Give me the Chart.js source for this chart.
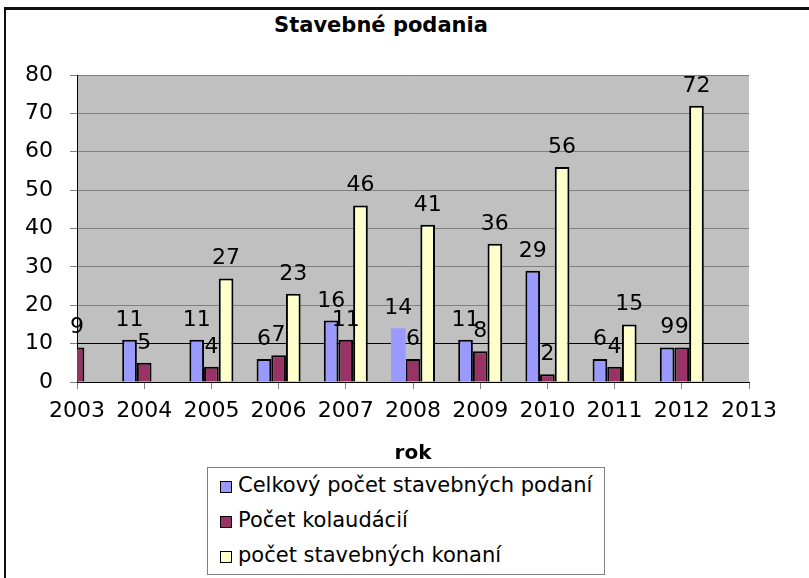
<!DOCTYPE html>
<html>
<head>
<meta charset="utf-8">
<script src="https://cdn.jsdelivr.net/npm/chart.js@4"></script>
<style>
    body { margin: 0; background: #fff; width: 809px; height: 578px; overflow: hidden; position: relative; font-family: "DejaVu Sans", sans-serif; }
    .frame { position: absolute; left: 4px; top: 7px; width: 830px; height: 620px; border-left: 2px solid #111; border-top: 3px solid #111; }
    #chartCanvas { position: absolute; left: 0; top: 0; }
    .chart-title { position: absolute; left: 0; top: 14px; width: 762px; text-align: center; font-weight: bold; font-size: 21px; line-height: 22px; color: #000; }
    .chart-legend { position: absolute; left: 207px; top: 467px; width: 396px; height: 106px; border: 1px solid #808080; background: #fff; }
    .legend-item { position: relative; height: 35px; }
    .legend-color { position: absolute; left: 12px; top: 13px; width: 10px; height: 10px; border: 1px solid #000; }
    .legend-text { position: absolute; left: 30px; top: 0; line-height: 35px; font-size: 21px; color: #000; white-space: nowrap; }
</style>
</head>
<body>
<div class="frame"></div>
<div class="chart-title">Stavebné podania</div>
<canvas id="chartCanvas" width="809" height="470"></canvas>
<div class="chart-legend"></div>

<script>
// Dati
const years = ['2003', '2004', '2005', '2006', '2007', '2008', '2009', '2010', '2011', '2012', '2013'];
const podania = [null, 11, 11, 6, 16, 14, 11, 29, 6, 9, null];
const kolaudacie = [9, 5, 4, 7, 11, 6, 8, 2, 4, 9, null];
const konania = [null, null, 27, 23, 46, 41, 36, 56, 15, 72, null];

const FONT = '"DejaVu Sans", sans-serif';

// Sfondo grigio dell'area del grafico
const plotBackground = {
    id: 'plotBackground',
    beforeDraw(chart) {
        const { ctx, chartArea: a } = chart;
        ctx.save();
        ctx.fillStyle = '#C0C0C0';
        ctx.fillRect(a.left, a.top, a.right - a.left, a.bottom - a.top);
        ctx.restore();
    }
};

// Etichette con i valori sopra le barre
const valueLabels = {
    id: 'valueLabels',
    afterDatasetsDraw(chart) {
        const ctx = chart.ctx;
        ctx.save();
        ctx.font = '22px ' + FONT;
        ctx.fillStyle = '#000';
        ctx.textAlign = 'center';
        ctx.textBaseline = 'alphabetic';
        chart.data.datasets.forEach((ds, i) => {
            chart.getDatasetMeta(i).data.forEach((bar, j) => {
                const v = ds.data[j];
                if (v === null || v === undefined) return;
                ctx.fillText(String(v), bar.x, bar.y - 14);
            });
        });
        ctx.restore();
    }
};

const ctx = document.getElementById('chartCanvas');

const chart = new Chart(ctx, {
    type: 'bar',
    data: {
        labels: years,
        datasets: [
            {
                label: 'Celkový počet stavebných podaní',
                data: podania,
                backgroundColor: '#9999FF',
                borderColor: '#000',
                borderWidth: c => (c.dataIndex === 5 ? 0 : 2)
            },
            {
                label: 'Počet kolaudácií',
                data: kolaudacie,
                backgroundColor: '#993366',
                borderColor: '#000',
                borderWidth: 2
            },
            {
                label: 'počet stavebných konaní',
                data: konania,
                backgroundColor: '#FFFFCC',
                borderColor: '#000',
                borderWidth: 2
            }
        ]
    },
    options: {
        responsive: false,
        animation: false,
        layout: { padding: { top: 75, right: 60, bottom: 0, left: 0 } },
        datasets: {
            bar: { categoryPercentage: 0.655, barPercentage: 1, clip: 0 }
        },
        plugins: {
            legend: { display: false },
            title: { display: false },
            tooltip: { enabled: false }
        },
        scales: {
            x: {
                type: 'category',
                offset: false,
                grid: {
                    display: true,
                    offset: false,
                    drawOnChartArea: false,
                    drawTicks: true,
                    tickLength: 7,
                    color: '#808080'
                },
                border: { color: '#000', width: 1 },
                ticks: {
                    color: '#000',
                    font: { size: 22, family: FONT },
                    padding: 9,
                    autoSkip: false,
                    maxRotation: 0
                },
                title: {
                    display: true,
                    text: 'rok',
                    color: '#000',
                    font: { size: 20, weight: 'bold', family: FONT },
                    padding: { top: 4, bottom: 4 }
                },
                afterFit: scale => { scale.height = 88; }
            },
            y: {
                min: 0,
                max: 80,
                grid: {
                    color: c => (c.tick && c.tick.value === 10 ? '#000' : '#808080'),
                    tickColor: '#808080',
                    tickLength: 7
                },
                border: { color: '#000', width: 1 },
                ticks: {
                    stepSize: 10,
                    color: '#000',
                    font: { size: 22, family: FONT },
                    padding: 17
                },
                afterFit: scale => { scale.width = 77; }
            }
        }
    },
    plugins: [plotBackground, valueLabels]
});

// Legenda personalizzata
function updateChartLegend(datasets) {
    const legendContainer = document.querySelector('.chart-legend');
    if (!legendContainer) return;
    legendContainer.innerHTML = datasets.map(dataset => `
        <div class="legend-item">
            <span class="legend-color" style="background: ${dataset.backgroundColor}"></span>
            <span class="legend-text">${dataset.label}</span>
        </div>
    `).join('');
}

updateChartLegend(chart.data.datasets);
</script>
</body>
</html>
